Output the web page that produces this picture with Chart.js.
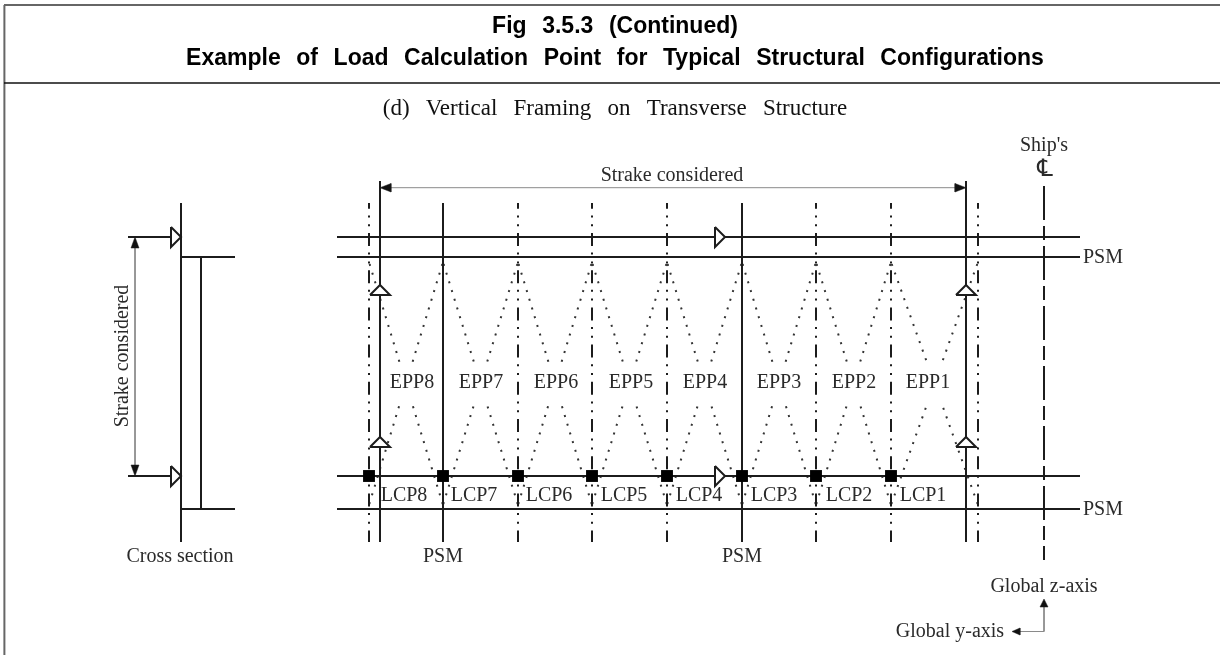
<!DOCTYPE html>
<html><head><meta charset="utf-8">
<style>html,body{margin:0;padding:0;background:#fff}canvas{display:block;filter:blur(0.4px)}</style>
<script src="https://cdn.jsdelivr.net/npm/chart.js@4"></script></head>
<body><canvas id="c" width="1220" height="655"></canvas>
<script>
// --- values (axis units equal the sheet's own grid) ---
const titleLines = ['Fig 3.5.3 (Continued)','Example of Load Calculation Point for Typical Structural Configurations'];
const subtitleText = '(d) Vertical Framing on Transverse Structure';
const lcpFrames = [369,443,518,592,667,742,816,891];
const lcpNames = ['LCP8','LCP7','LCP6','LCP5','LCP4','LCP3','LCP2','LCP1'];
const lcpLabelX = [404,474,549,624,699,774,849,923];
const eppNames = ['EPP8','EPP7','EPP6','EPP5','EPP4','EPP3','EPP2','EPP1'];
const eppLabelX = [412,481,556,631,705,779,854,928];
const dashDotFrames = [369,518,592,667,816,891,978];
const psmFrames = [443,742];
const strakeFrames = [380,966];
const panelEdges = [369,443,518,592,667,742,816,891,978];
const stiffenerYs = [237,476];
const psmYs = [257,509];
const centreLineX = 1044;
const upTriangleYs = [295,447];
const rightTriangleXs = [181,725];

const LINE='#1c1c1c', THIN='#8a8a8a';
const painted=[];
function seg(pts,o={}){painted.push(Object.assign({type:'line',data:pts.map(p=>({x:p[0],y:p[1]})),borderColor:LINE,borderWidth:2,pointRadius:0,fill:false,clip:false,tension:0},o));}
function poly(pts,bg,o={}){seg(pts.concat([pts[0]]),Object.assign({fill:'shape',backgroundColor:bg,borderJoinStyle:'miter'},o));}

// sheet frame
seg([[4.6,655],[4.4,5]],{borderColor:'#666',borderWidth:2});
seg([[4,5],[1220,5]],{borderColor:'#666',borderWidth:2});
seg([[4,83],[1220,83]],{borderColor:'#111',borderWidth:1.4});

// dotted load-area diagonals
for(let i=0;i<8;i++){
  const a=panelEdges[i],b=panelEdges[i+1],k=(b-a)/243;
  const X=(y,from)=>from+(y-262)*k*(from===a?1:-1);
  [a,b].forEach(f=>{
    seg([[X(264,f),264],[X(362,f),362]],{borderColor:'#333',borderWidth:2,borderDash:[2,7.1]});
    seg([[X(504,f),504],[X(403,f),403]],{borderColor:'#333',borderWidth:2,borderDash:[2,7.1]});
  });
}
// frames
dashDotFrames.forEach(x=>seg([[x,203],[x,542]],{borderDash:[13,6.6,2,6.8,2,6.8],borderDashOffset:7.2}));
psmFrames.forEach(x=>seg([[x,203],[x,542]]));
strakeFrames.forEach(x=>seg([[x,181],[x,542]]));
// stiffener and PSM lines
stiffenerYs.forEach(y=>seg([[337,y],[1080,y]]));
psmYs.forEach(y=>seg([[337,y],[1080,y]]));
// centre line
seg([[centreLineX,186],[centreLineX,560]],{borderDash:[34,6,14,6]});
// cross section
seg([[181,203],[181,542]]);
seg([[201,257],[201,509]]);
psmYs.forEach(y=>seg([[181,y],[235,y]]));
stiffenerYs.forEach(y=>seg([[128,y],[172,y]]));
// dimension lines
seg([[135,240],[135,472]],{borderColor:THIN,borderWidth:1});
seg([[384,187.7],[962,187.7]],{borderColor:THIN,borderWidth:1});
seg([[1044,606],[1044,631.5],[1018,631.5]],{borderColor:THIN,borderWidth:1});
// arrow heads
poly([[135,237],[131,248],[139,248]],'#111',{borderWidth:0.5});
poly([[135,476],[131,465],[139,465]],'#111',{borderWidth:0.5});
poly([[380,187.7],[391,183.5],[391,192]],'#111',{borderWidth:0.5});
poly([[966,187.7],[955,183.5],[955,192]],'#111',{borderWidth:0.5});
poly([[1044,599],[1040,607],[1048,607]],'#111',{borderWidth:0.5});
poly([[1012,631.5],[1020,628],[1020,635]],'#111',{borderWidth:0.5});
// triangles
strakeFrames.forEach(x=>upTriangleYs.forEach(y=>poly([[x-10,y],[x+10,y],[x,y-10]],'#fff')));
rightTriangleXs.forEach(x=>stiffenerYs.forEach(y=>poly([[x-10,y-10],[x,y],[x-10,y+10]],'#fff')));
// load calculation points
painted.push({type:'line',showLine:false,data:lcpFrames.map(x=>({x,y:476})),pointStyle:'rect',pointRadius:8.4,pointBackgroundColor:'#000',pointBorderWidth:0,clip:false});

const serif='"Liberation Serif", serif';
const labels=[
 ...lcpNames.map((t,i)=>[t,lcpLabelX[i],496]),
 ...eppNames.map((t,i)=>[t,eppLabelX[i],383]),
 ['Strake considered',672,176],["Ship's",1044,146],
 ['PSM',1103,258],['PSM',1103,510],['PSM',443,557],['PSM',742,557],
 ['Cross section',180,557],['Global z-axis',1044,587],['Global y-axis',950,632]
];
const sheetText={id:'sheetText',
 beforeDraw(ch){ch.ctx.wordSpacing='9.2px';},
 afterDraw(ch){
  const c=ch.ctx,X=ch.scales.x,Y=ch.scales.y;
  c.save();c.textAlign='center';c.textBaseline='middle';
  c.fillStyle='#111';c.wordSpacing='10.4px';c.font='23px '+serif;
  c.fillText(subtitleText,X.getPixelForValue(615),Y.getPixelForValue(108.5));
  c.wordSpacing='0px';c.fillStyle='#2a2a2a';c.font='20px '+serif;
  labels.forEach(l=>c.fillText(l[0],X.getPixelForValue(l[1]),Y.getPixelForValue(l[2])));
  c.font='24px "DejaVu Sans"';c.fillText('\u2104',X.getPixelForValue(1045),Y.getPixelForValue(170));
  c.font='20px '+serif;
  c.translate(X.getPixelForValue(123),Y.getPixelForValue(356));c.rotate(-Math.PI/2);
  c.fillText('Strake considered',0,0);
  c.restore();
 }};
new Chart(document.getElementById('c'),{
 data:{datasets:painted.slice().reverse()},
 plugins:[sheetText],
 options:{responsive:false,animation:false,events:[],
  layout:{autoPadding:false,padding:{left:10}},
  plugins:{legend:{display:false},tooltip:{enabled:false},
   title:{display:true,text:titleLines,color:'#000',font:{family:'"Liberation Sans"',size:23,weight:'bold',lineHeight:'32px'},padding:{top:11,bottom:8}}},
  scales:{x:{type:'linear',display:false,min:10,max:1220},y:{type:'linear',display:false,reverse:true,min:83,max:655}}
 }});
</script></body></html>
